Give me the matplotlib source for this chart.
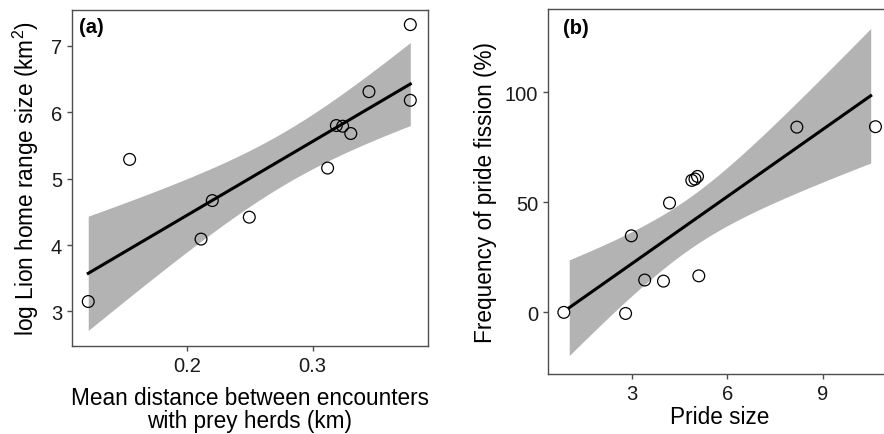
import matplotlib
matplotlib.use("Agg")
import matplotlib.pyplot as plt
import numpy as np

plt.rcParams['font.family'] = ['Liberation Sans', 'DejaVu Sans']
plt.rcParams['mathtext.fontset'] = 'custom'
plt.rcParams['mathtext.rm'] = 'Liberation Sans'
plt.rcParams['mathtext.it'] = 'Liberation Sans'

# panel (a): distance between prey encounters vs log home range
prey_dist = [0.121, 0.154, 0.211, 0.220, 0.2495, 0.312, 0.319, 0.324, 0.3305, 0.345, 0.378, 0.378]
log_range = [3.15, 5.29, 4.09, 4.67, 4.42, 5.16, 5.80, 5.79, 5.68, 6.31, 6.18, 7.32]

# panel (b): pride size vs fission frequency
pride_size = [1.03, 2.80, 2.98, 3.40, 3.99, 4.18, 4.88, 4.98, 5.06, 5.10, 8.18, 10.50]  # used for the fit
pride_shown = [0.86, 2.80, 2.98, 3.40, 3.99, 4.18, 4.88, 4.98, 5.06, 5.10, 8.18, 10.65]  # jittered positions
fission = [0, -0.5, 34.8, 14.7, 14.2, 49.7, 60.0, 60.6, 61.8, 16.6, 84.2, 84.4]

T975 = 2.228  # t quantile, df = 10
BAND = '#b3b3b3'
SPINE = '#4d4d4d'
LABEL_FS = 16.3
TICK_FS = 14.5


def lm_band(x, y, n=100):
    x = np.asarray(x, float)
    y = np.asarray(y, float)
    slope, icpt = np.polyfit(x, y, 1)
    resid = y - (slope * x + icpt)
    s = np.sqrt(np.sum(resid ** 2) / (len(x) - 2))
    xs = np.linspace(x.min(), x.max(), n)
    se = s * np.sqrt(1 / len(x) + (xs - x.mean()) ** 2 / np.sum((x - x.mean()) ** 2))
    fit = slope * xs + icpt
    return xs, fit, fit - T975 * se, fit + T975 * se


def style(ax):
    for sp in ax.spines.values():
        sp.set_color(SPINE)
        sp.set_linewidth(1.0)
    ax.tick_params(direction='out', length=3.5, width=1, color=SPINE,
                   labelsize=TICK_FS, labelcolor='#1a1a1a', pad=3.5)


fig = plt.figure(figsize=(8.84, 4.35), dpi=100)
ax1 = fig.add_axes([0.0814, 0.2023, 0.4026, 0.7724])
ax2 = fig.add_axes([0.620, 0.138, 0.388, 0.839])

xs, fit, lo, hi = lm_band(prey_dist, log_range)
ax1.fill_between(xs, lo, hi, color=BAND, lw=0, zorder=1)
ax1.plot(xs, fit, color='black', lw=2.2, zorder=2)
ax1.scatter(prey_dist, log_range, s=72, facecolors='none', edgecolors='black',
            linewidths=0.9, zorder=3)
ax1.set_xlim(0.108, 0.392)
ax1.set_ylim(2.48, 7.54)
ax1.set_xticks([0.2, 0.3])
ax1.set_xticklabels(['0.2', '0.3'])
ax1.set_yticks([3, 4, 5, 6, 7])
ax1.set_xlabel('Mean distance between encounters\nwith prey herds (km)', fontsize=LABEL_FS,
               labelpad=8, linespacing=1.0)
ax1.set_ylabel('log Lion home range size (km$^{2}$)', fontsize=LABEL_FS, labelpad=7)
ax1.text(0.02, 0.979, '(a)', transform=ax1.transAxes, fontsize=14.5,
         fontweight='bold', ha='left', va='top')
style(ax1)

xs, fit, lo, hi = lm_band(pride_size, fission)
ax2.fill_between(xs, lo, hi, color=BAND, lw=0, zorder=1)
ax2.plot(xs, fit, color='black', lw=2.2, zorder=2)
ax2.scatter(pride_shown, fission, s=72, facecolors='none', edgecolors='black',
            linewidths=0.9, zorder=3)
ax2.set_xlim(0.365, 11.14)
ax2.set_ylim(-28, 137.9)
ax2.set_xticks([3, 6, 9])
ax2.set_yticks([0, 50, 100])
ax2.set_xlabel('Pride size', fontsize=LABEL_FS, labelpad=2)
ax2.set_ylabel('Frequency of pride fission (%)', fontsize=LABEL_FS, labelpad=6)
ax2.text(0.044, 0.975, '(b)', transform=ax2.transAxes, fontsize=14.5,
         fontweight='bold', ha='left', va='top')
style(ax2)

fig.savefig('out.png', dpi=100, facecolor='white')
